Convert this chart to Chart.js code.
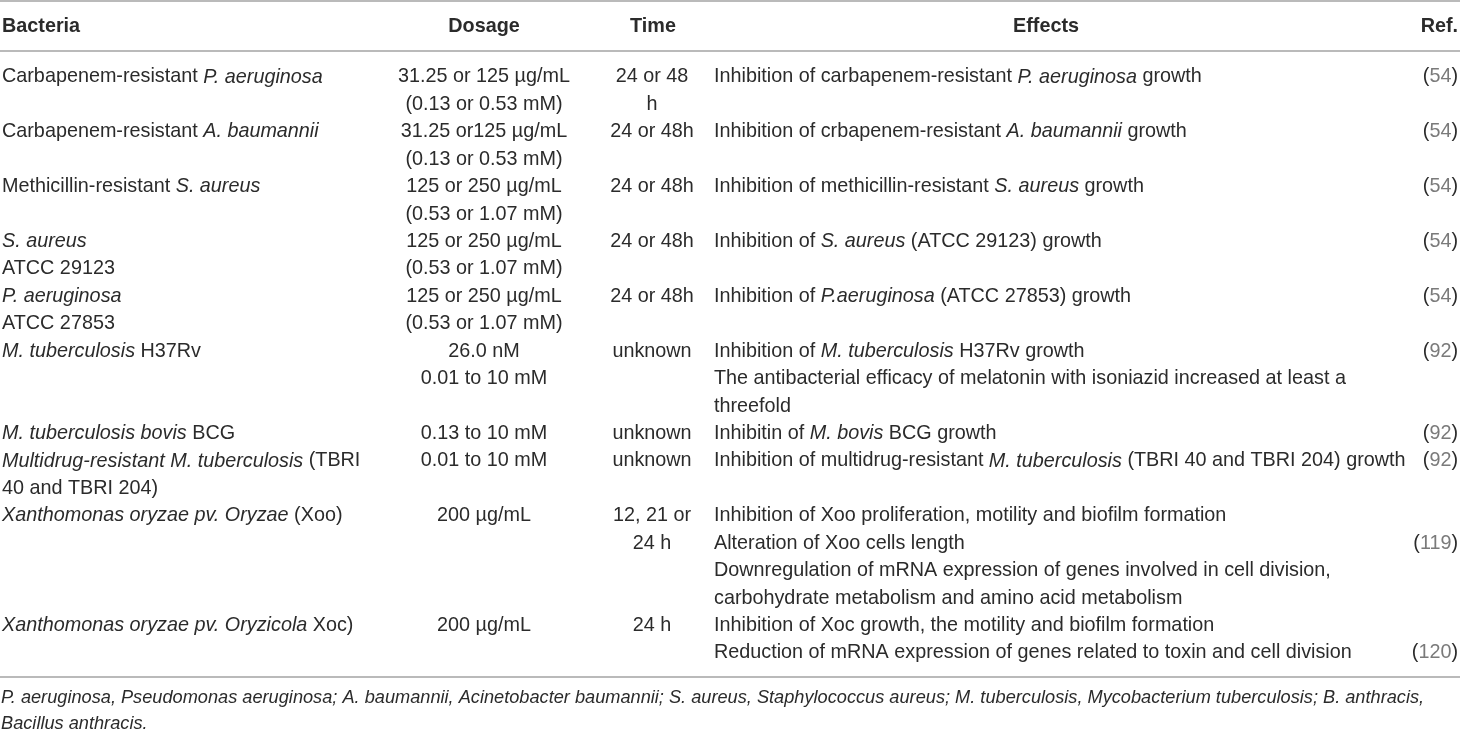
<!DOCTYPE html>
<html>
<head>
<meta charset="utf-8">
<script src="https://cdn.jsdelivr.net/npm/chart.js@4.4.1/dist/chart.umd.min.js"></script>
<style>
  html, body { margin: 0; padding: 0; background: #ffffff; }
  #wrap { position: relative; width: 1460px; height: 730px; overflow: hidden; }
</style>
</head>
<body>
<div id="wrap"><canvas id="c" width="1460" height="730"></canvas></div>
<script>
// ---------- data (text markup: *italic*, #grey#) ----------
const headers = ["Bacteria", "Dosage", "Time", "Effects", "Ref."];

const bacteria = [
  ["Carbapenem-resistant *P. aeruginosa*"],
  ["Carbapenem-resistant *A. baumannii*"],
  ["Methicillin-resistant *S. aureus*"],
  ["*S. aureus*", "ATCC 29123"],
  ["*P. aeruginosa*", "ATCC 27853"],
  ["*M. tuberculosis* H37Rv"],
  ["*M. tuberculosis bovis* BCG"],
  ["*Multidrug-resistant M. tuberculosis* (TBRI", "40 and TBRI 204)"],
  ["*Xanthomonas oryzae pv. Oryzae* (Xoo)"],
  ["*Xanthomonas oryzae pv. Oryzicola* Xoc)"]
];

const dosage = [
  ["31.25 or 125 µg/mL", "(0.13 or 0.53 mM)"],
  ["31.25 or125 µg/mL", "(0.13 or 0.53 mM)"],
  ["125 or 250 µg/mL", "(0.53 or 1.07 mM)"],
  ["125 or 250 µg/mL", "(0.53 or 1.07 mM)"],
  ["125 or 250 µg/mL", "(0.53 or 1.07 mM)"],
  ["26.0 nM", "0.01 to 10 mM"],
  ["0.13 to 10 mM"],
  ["0.01 to 10 mM"],
  ["200 µg/mL"],
  ["200 µg/mL"]
];

const times = [
  ["24 or 48", "h"],
  ["24 or 48h"],
  ["24 or 48h"],
  ["24 or 48h"],
  ["24 or 48h"],
  ["unknown"],
  ["unknown"],
  ["unknown"],
  ["12, 21 or", "24 h"],
  ["24 h"]
];

const effects = [
  ["Inhibition of carbapenem-resistant *P. aeruginosa* growth"],
  ["Inhibition of crbapenem-resistant *A. baumannii* growth"],
  ["Inhibition of methicillin-resistant *S. aureus* growth"],
  ["Inhibition of *S. aureus* (ATCC 29123) growth"],
  ["Inhibition of *P.aeruginosa* (ATCC 27853) growth"],
  ["Inhibition of *M. tuberculosis* H37Rv growth",
   "The antibacterial efficacy of melatonin with isoniazid increased at least a",
   "threefold"],
  ["Inhibitin of *M. bovis* BCG growth"],
  ["Inhibition of multidrug-resistant *M. tuberculosis* (TBRI 40 and TBRI 204) growth"],
  ["Inhibition of Xoo proliferation, motility and biofilm formation",
   "Alteration of Xoo cells length",
   "Downregulation of mRNA expression of genes involved in cell division,",
   "carbohydrate metabolism and amino acid metabolism"],
  ["Inhibition of Xoc growth, the motility and biofilm formation",
   "Reduction of mRNA expression of genes related to toxin and cell division"]
];

const refs = [
  ["(#54#)"],
  ["(#54#)"],
  ["(#54#)"],
  ["(#54#)"],
  ["(#54#)"],
  ["(#92#)"],
  ["(#92#)"],
  ["(#92#)"],
  ["", "(#119#)"],
  ["", "(#120#)"]
];

const footnote = [
  "*P. aeruginosa, Pseudomonas aeruginosa; A. baumannii, Acinetobacter baumannii; S. aureus, Staphylococcus aureus; M. tuberculosis, Mycobacterium tuberculosis; B. anthracis,*",
  "*Bacillus anthracis.*"
];

// ---------- layout & style (kept apart from the data) ----------
const layout = {
  cols: [
    { x: 2,    align: "left"   },
    { x: 484,  align: "center" },
    { x: 652,  align: "center" },
    { x: 714,  align: "left"   },
    { x: 1458, align: "right"  }
  ],
  headerX: [2, 484, 653, 1046, 1458],
  headerAlign: ["left", "center", "center", "center", "right"],
  headerY: 27,
  firstLineY: 77,
  lineStep: 27.43,
  rules: [1, 51, 677],
  footX: 1,
  footY: [698, 724]
};
const style = {
  family: "'Liberation Sans', Arial, Helvetica, sans-serif",
  size: 19.8,
  footSize: 18.2,
  text: "#2b2b2b",
  grey: "#7a7a7a",
  rule: "#a3a3a3",
  ruleWidth: 1.6
};

function parseRuns(str) {
  const out = [];
  let it = false, gr = false, buf = "";
  for (const ch of str) {
    if (ch === "*" || ch === "#") {
      if (buf) out.push({ t: buf, it, gr });
      buf = "";
      if (ch === "*") it = !it; else gr = !gr;
    } else buf += ch;
  }
  if (buf) out.push({ t: buf, it, gr });
  return out;
}
function fontOf(r, bold, size) {
  return (r.it ? "italic " : "") + (bold ? "bold " : "") + size + "px " + style.family;
}
function drawText(ctx, str, x, y, align, bold, size) {
  size = size || style.size;
  const rs = parseRuns(str);
  let w = 0;
  rs.forEach(r => { ctx.font = fontOf(r, bold, size); r.w = ctx.measureText(r.t).width; w += r.w; });
  let cx = align === "left" ? x : align === "center" ? x - w / 2 : x - w;
  ctx.textAlign = "left";
  ctx.textBaseline = "middle";
  rs.forEach(r => {
    ctx.font = fontOf(r, bold, size);
    ctx.fillStyle = r.gr ? style.grey : style.text;
    ctx.fillText(r.t, cx, y);
    cx += r.w;
  });
}

const tablePlugin = {
  id: "tableText",
  afterDraw(chart) {
    const ctx = chart.ctx;
    const X = v => chart.scales.x.getPixelForValue(v);
    const Y = v => chart.scales.y.getPixelForValue(v);
    ctx.save();
    // rules
    ctx.strokeStyle = style.rule;
    ctx.lineWidth = style.ruleWidth;
    layout.rules.forEach(r => {
      ctx.beginPath();
      ctx.moveTo(X(0), Y(r));
      ctx.lineTo(X(1460), Y(r));
      ctx.stroke();
    });
    // header
    headers.forEach((h, i) => drawText(ctx, h, X(layout.headerX[i]), Y(layout.headerY), layout.headerAlign[i], true));
    // body
    const columns = [bacteria, dosage, times, effects, refs];
    let line = 0;
    for (let r = 0; r < bacteria.length; r++) {
      const n = Math.max(...columns.map(c => c[r].length));
      columns.forEach((col, ci) => {
        col[r].forEach((txt, li) => {
          if (!txt) return;
          const yv = layout.firstLineY + (line + li) * layout.lineStep;
          drawText(ctx, txt, X(layout.cols[ci].x), Y(yv), layout.cols[ci].align, false);
        });
      });
      line += n;
    }
    // footnote
    footnote.forEach((f, i) => drawText(ctx, f, X(layout.footX), Y(layout.footY[i]), "left", false, style.footSize));
    ctx.restore();
  }
};

new Chart(document.getElementById("c"), {
  type: "scatter",
  data: { datasets: [] },
  options: {
    responsive: false,
    animation: false,
    devicePixelRatio: 1,
    layout: { padding: 0 },
    plugins: { legend: { display: false }, tooltip: { enabled: false }, title: { display: false } },
    scales: {
      x: { type: "linear", min: 0, max: 1460, display: false },
      y: { type: "linear", min: 0, max: 730, reverse: true, display: false }
    }
  },
  plugins: [tablePlugin]
});
</script>
</body>
</html>
